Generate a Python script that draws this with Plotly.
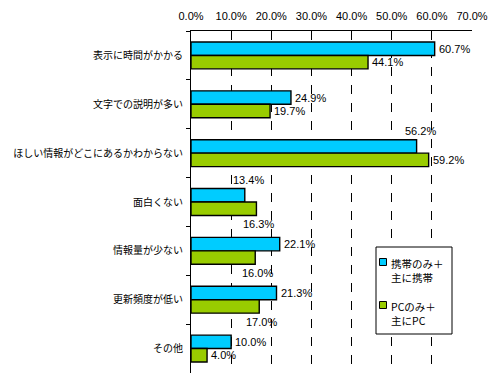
import plotly.graph_objects as go

categories = ["表示に時間がかかる", "文字での説明が多い", "ほしい情報がどこにあるかわからない",
              "面白くない", "情報量が少ない", "更新頻度が低い", "その他"]
mobile_vals = [60.7, 24.9, 56.2, 13.4, 22.1, 21.3, 10.0]
pc_vals = [44.1, 19.7, 59.2, 16.3, 16.0, 17.0, 4.0]
series_names = ["携帯のみ＋<br>主に携帯", "PCのみ＋<br>主にPC"]
tick_vals = [0, 10, 20, 30, 40, 50, 60, 70]
tick_text = ["0.0%", "10.0%", "20.0%", "30.0%", "40.0%", "50.0%", "60.0%", "70.0%"]

# label placement (style): r = right of bar, a = above, b = below
mobile_place = ["r", "r", "a", "a", "r", "r", "r"]
pc_place = ["r", "r", "r", "b", "b", "b", "r"]

BLUE = "#00CCFF"
GREEN = "#99CC00"
COLORS = [BLUE, GREEN]
NUMFONT = dict(family="Liberation Sans Narrow, Liberation Sans, Arial", size=11, color="black")
JPFONT = dict(family="Noto Sans CJK JP", size=10, color="black")

# page body has an 8px margin, so the figure is drawn 8px smaller and offset
OFF = 8
fig = go.Figure()
for vals, name, col in zip((mobile_vals, pc_vals), series_names, COLORS):
    fig.add_trace(go.Bar(y=categories, x=vals, orientation="h", name=name,
                         marker=dict(color=col, line=dict(color="black", width=1.4)),
                         showlegend=False))

annotations = []
for vals, places, base in ((mobile_vals, mobile_place, 6.7), (pc_vals, pc_place, -6.7)):
    for c, v, p in zip(categories, vals, places):
        if p == "r":
            annotations.append(dict(x=v, y=c, text=f"{v:.1f}%", showarrow=False,
                                    xanchor="left", xshift=2, yshift=base, font=NUMFONT))
        elif p == "a":
            annotations.append(dict(x=v, y=c, text=f"{v:.1f}%", showarrow=False,
                                    xanchor="center", xshift=4, yshift=22, font=NUMFONT))
        else:
            annotations.append(dict(x=v, y=c, text=f"{v:.1f}%", showarrow=False,
                                    xanchor="center", xshift=2, yshift=-22, font=NUMFONT))

# manual legend (paper coordinates, from target pixel positions)
plot_w, plot_h = 281.0, 342.0
lx0, lx1 = (376 - 191) / plot_w, (452 - 191) / plot_w
ly1, ly0 = (373 - 247) / plot_h, (373 - 334) / plot_h
shapes = [dict(type="rect", xref="paper", yref="paper", x0=lx0, x1=lx1, y0=ly0, y1=ly1,
               line=dict(color="black", width=1), fillcolor="white", layer="above")]
for i, (name, col) in enumerate(zip(series_names, COLORS)):
    cy = 373 - (262 + 43 * i)
    sx0 = (379.5 - 191) / plot_w
    sx1 = (386.5 - 191) / plot_w
    shapes.append(dict(type="rect", xref="paper", yref="paper", x0=sx0, x1=sx1,
                       y0=(cy - 3.5) / plot_h, y1=(cy + 3.5) / plot_h,
                       line=dict(color="black", width=1), fillcolor=col, layer="above"))
    annotations.append(dict(xref="paper", yref="paper", x=(389 - 191) / plot_w,
                            y=(cy + 8) / plot_h, xanchor="left", yanchor="top",
                            align="left", showarrow=False, text=name,
                            font=dict(family="Noto Sans CJK JP", size=10.5, color="black")))

fig.update_layout(
    width=500 - OFF, height=384 - OFF,
    margin=dict(l=191 - OFF, r=28, t=31 - OFF, b=11, pad=0),
    paper_bgcolor="white", plot_bgcolor="white",
    barmode="group", bargap=0.45, bargroupgap=0,
    font=JPFONT,
    annotations=annotations,
    shapes=shapes,
    showlegend=False,
    xaxis=dict(range=[0, 70], side="top", tickvals=tick_vals, ticktext=tick_text,
               tickfont=NUMFONT, showgrid=True, gridcolor="black", griddash="dash",
               gridwidth=1, showline=True, linecolor="black", linewidth=1,
               mirror=False, ticks="outside", ticklen=6, tickcolor="white",
               zeroline=False, fixedrange=True, automargin=False),
    yaxis=dict(autorange="reversed", showline=True, linecolor="black", linewidth=1,
               ticks="outside", ticklen=4, tickcolor="black", tickson="boundaries",
               tickfont=JPFONT, showgrid=False, fixedrange=True, automargin=False,
               ticklabelstandoff=5),
)

fig.write_html("out.html")
